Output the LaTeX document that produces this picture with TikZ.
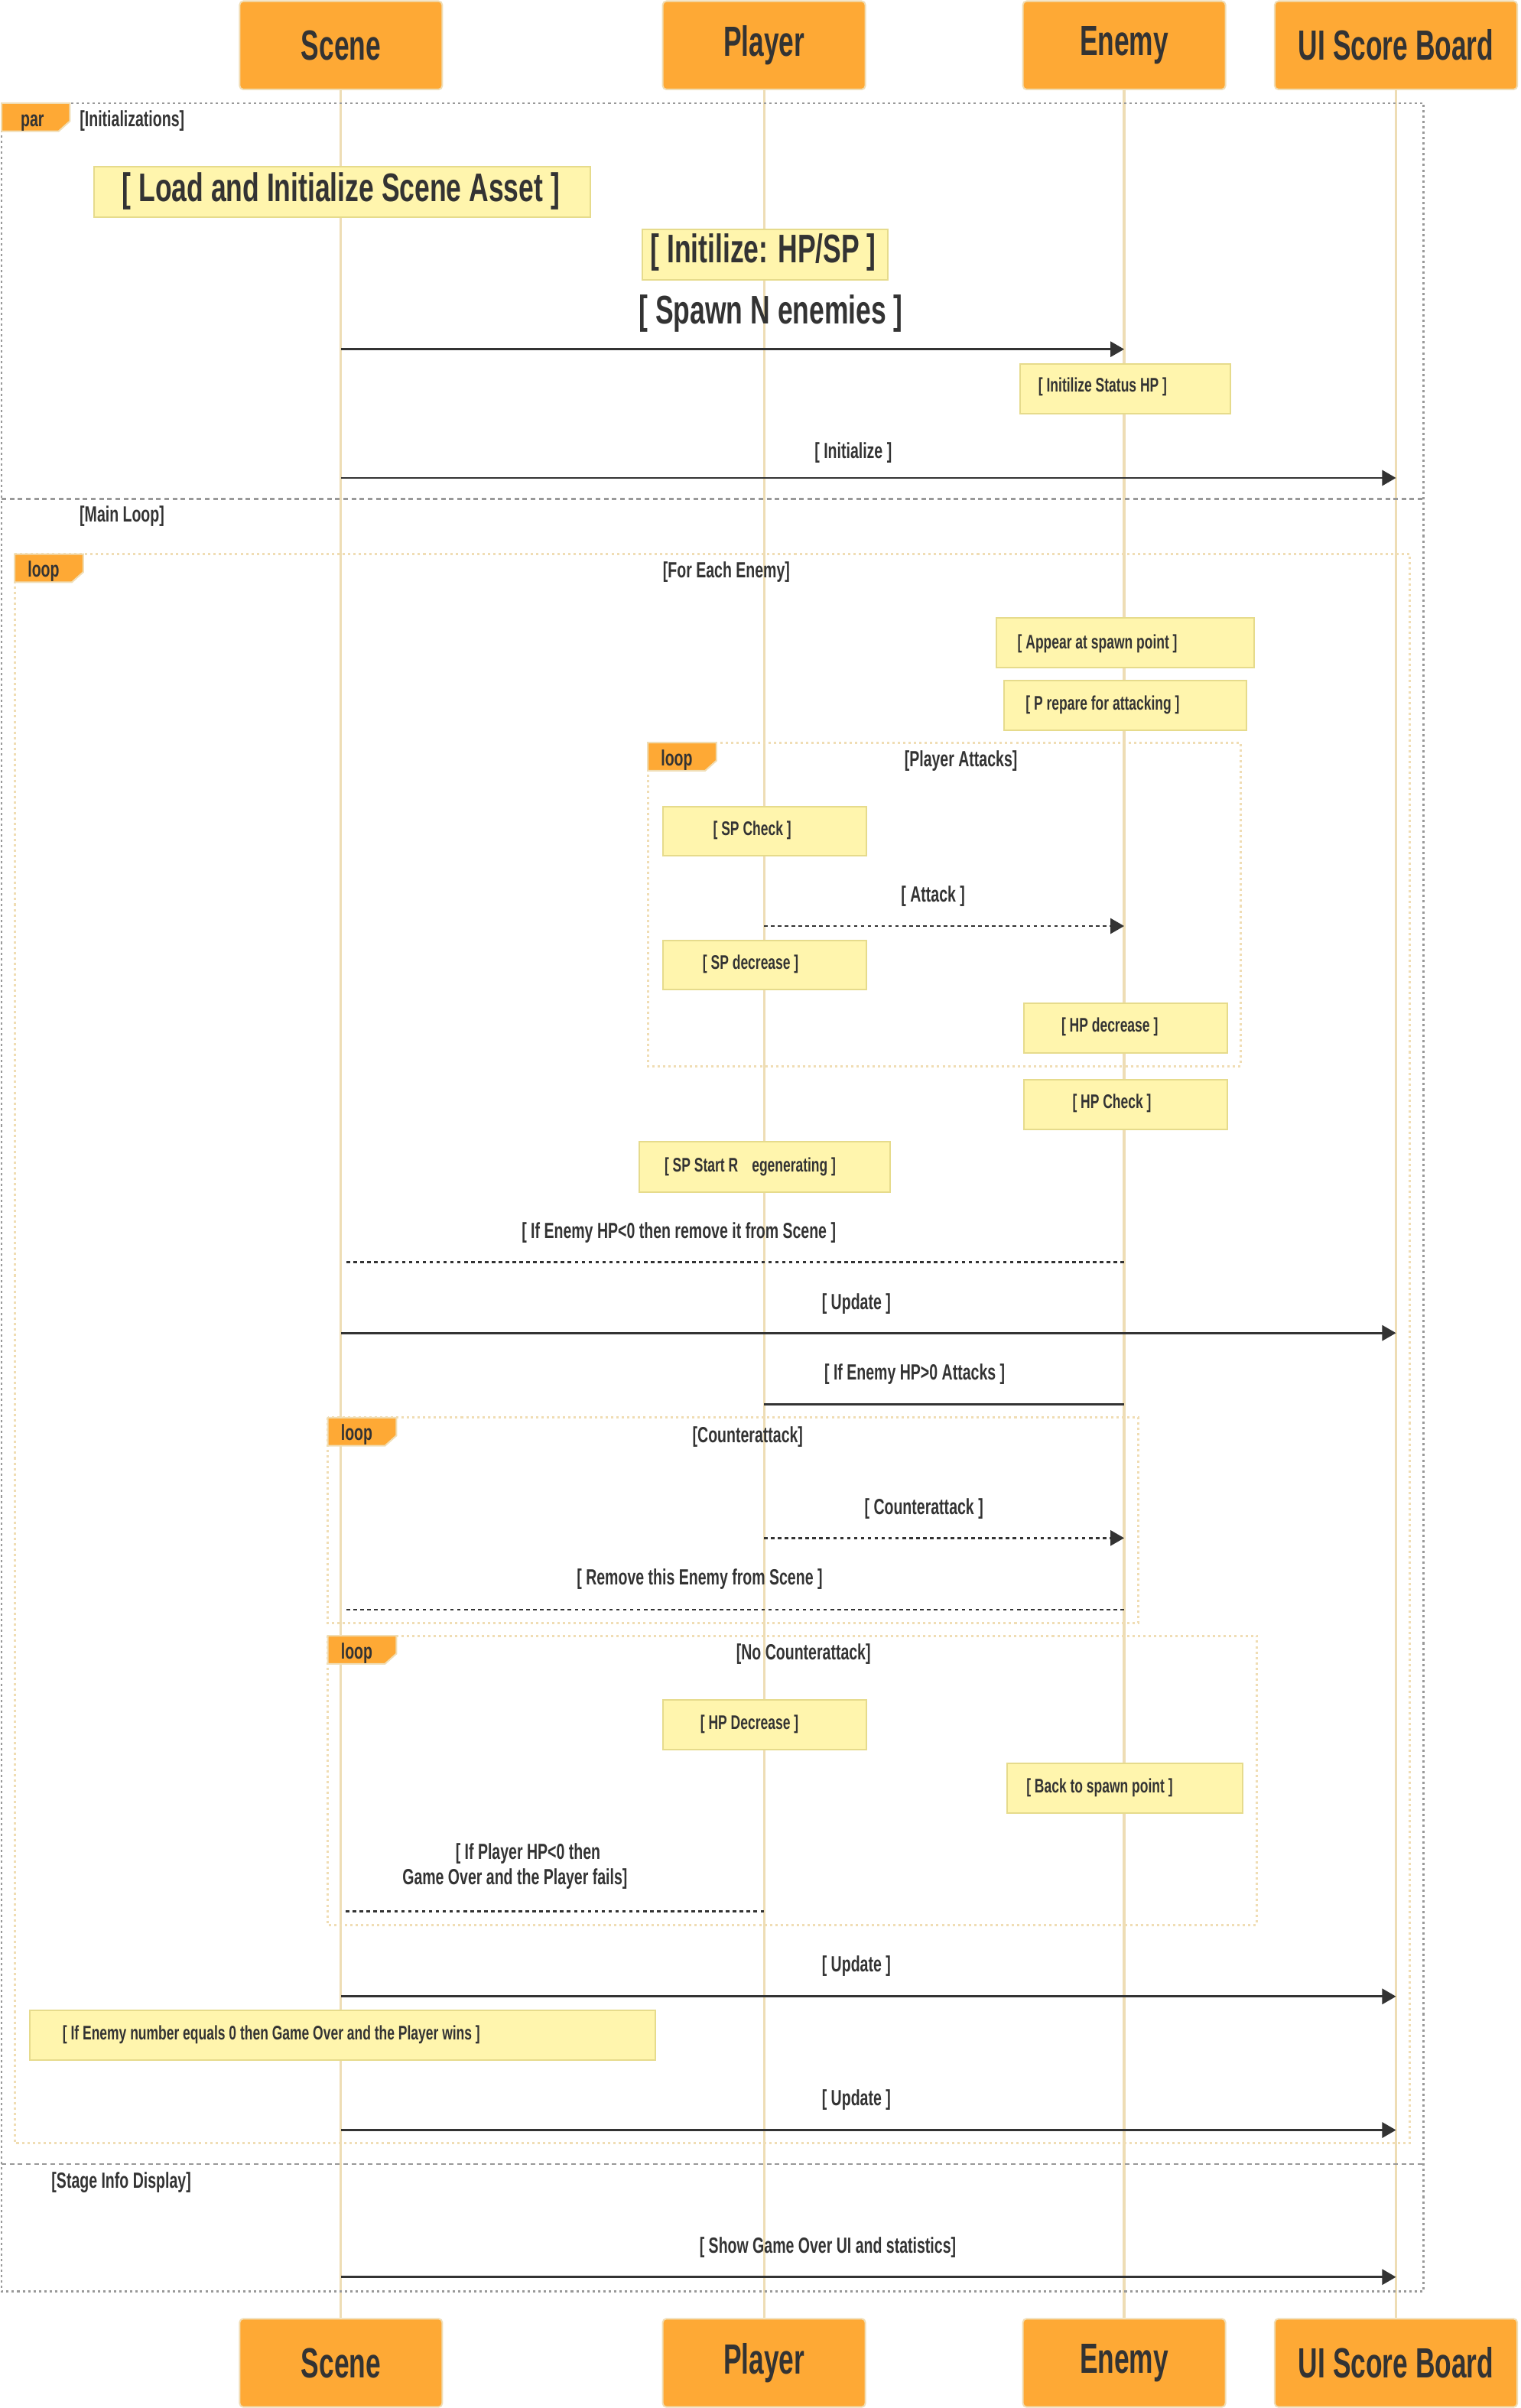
\documentclass[tikz,border=0pt]{standalone}
\usepackage{fontspec}
\usetikzlibrary{arrows.meta}
\newfontfamily\cf[FakeStretch=0.68]{Liberation Sans}
\newfontfamily\cfa[FakeStretch=0.64]{Liberation Sans}
\definecolor{actorfill}{HTML}{FEA935}
\definecolor{actorline}{HTML}{F0DDB4}
\definecolor{notefill}{HTML}{FFF5AD}
\definecolor{noteline}{HTML}{E6DB8C}
\definecolor{lifecol}{HTML}{EEDDB5}
\definecolor{loopcol}{HTML}{F0DDB4}
\definecolor{parcol}{HTML}{999999}
\definecolor{txt}{HTML}{333333}
\definecolor{msgcol}{HTML}{333333}
\begin{document}
\begin{tikzpicture}[x=1pt,y=-1pt,
  actor/.style={draw=actorline, fill=actorfill, line width=1pt, rounded corners=2.5pt, minimum height=57.5pt, inner sep=0pt, text=txt, font=\cfa\bfseries\fontsize{27.5}{32}\selectfont},
  notebox/.style={draw=noteline, fill=notefill, line width=1pt, inner sep=0pt, anchor=north west},
  bigtext/.style={text=txt, inner sep=0pt, font=\cf\bfseries\fontsize{26}{30}\selectfont},
  lbl/.style={text=txt, inner sep=0pt, font=\cf\bfseries\fontsize{14.3}{16.7}\selectfont},
  smalltext/.style={text=txt, inner sep=0pt, font=\cf\bfseries\fontsize{12.8}{15}\selectfont},
  tagtext/.style={text=txt, inner sep=0pt, anchor=base west, font=\cf\bfseries\fontsize{14.3}{16}\selectfont},
  lifeline/.style={draw=lifecol, line width=1.6pt},
  parframe/.style={draw=parcol, line width=1.3pt, dash pattern=on 1.5pt off 2pt},
  pardivider/.style={draw=parcol, line width=1.4pt, dash pattern=on 3pt off 2.3pt},
  loopframe/.style={draw=loopcol, line width=1.5pt, dash pattern=on 1.5pt off 2pt},
  tagshape/.style={fill=actorfill, draw=actorline, line width=1pt},
  msg/.style={draw=msgcol, line width=1.4pt, -{Triangle[length=9pt,width=10pt]}},
  msgdot/.style={draw=msgcol, line width=1.4pt, dash pattern=on 2.3pt off 2.2pt, -{Triangle[length=9pt,width=10pt]}},
  replydot/.style={draw=msgcol, line width=1.4pt, dash pattern=on 2.3pt off 2.2pt},
  plainline/.style={draw=msgcol, line width=1.4pt}
]
\useasboundingbox[fill=white] (0,0) rectangle (990,1568);

% actors
\node[actor, minimum width=132pt] (sceneT) at (222,29.5) {Scene};
\node[actor, minimum width=132pt] (playerT) at (497.5,29.5) {Player};
\node[actor, minimum width=132pt] (enemyT) at (732,29.5) {Enemy};
\node[actor, minimum width=158pt] (uiT) at (909,29.5) {UI Score Board};
\node[actor, minimum width=132pt] (sceneB) at (222,1538.6) {Scene};
\node[actor, minimum width=132pt] (playerB) at (497.5,1538.6) {Player};
\node[actor, minimum width=132pt] (enemyB) at (732,1538.6) {Enemy};
\node[actor, minimum width=158pt] (uiB) at (909,1538.6) {UI Score Board};

% lifelines
\draw[lifeline] (sceneT.south) -- (sceneB.north);
\draw[lifeline] (playerT.south) -- (playerB.north);
\draw[lifeline] (enemyT.south) -- (enemyB.north);
\draw[lifeline] (uiT.south) -- (uiB.north);

% par frame
\draw[parframe] (1,67.2) rectangle (927,1492);
\draw[pardivider] (1,324.7) -- (927,324.7);
\draw[pardivider] (1,1409.1) -- (927,1409.1);
\draw[tagshape] (1,67.2) -- (45.5,67.2) -- (45.5,78.9) -- (38.1,85.5) -- (1,85.5) -- cycle;
\node[tagtext] (partag) at (13.3,82.6) {par};
\node[lbl, anchor=west] (lblinit) at (51.8,78.9) {[Initializations]};
\node[lbl, anchor=west] (lblmain) at (51.7,336.2) {[Main Loop]};
\node[lbl, anchor=west] (lblstage) at (33.4,1421) {[Stage Info Display]};

% loop frames
\draw[loopframe] (9.5,360.8) rectangle (918,1395.6);
\draw[tagshape] (9.5,360.8) -- (54.2,360.8) -- (54.2,372.5) -- (46.8,379.1) -- (9.5,379.1) -- cycle;
\node[tagtext] (looptag1) at (17.9,375.8) {loop};
\node[lbl] (lbleach) at (473,372.5) {[For Each Enemy]};

\draw[loopframe] (421.8,483.6) rectangle (807.8,694.2);
\draw[tagshape] (421.8,483.6) -- (466.5,483.6) -- (466.5,495.3) -- (459.1,501.9) -- (421.8,501.9) -- cycle;
\node[tagtext] (looptag2) at (430.2,498.6) {loop};
\node[lbl] (lblattacks) at (625.7,495.5) {[Player Attacks]};

\draw[loopframe] (213.4,923.1) rectangle (741.3,1057);
\draw[tagshape] (213.4,923.1) -- (258.1,923.1) -- (258.1,934.8) -- (250.7,941.4) -- (213.4,941.4) -- cycle;
\node[tagtext] (looptag3) at (221.8,938.1) {loop};
\node[lbl] (lblcounter) at (486.9,935.6) {[Counterattack]};

\draw[loopframe] (213.4,1065.1) rectangle (818.2,1253.3);
\draw[tagshape] (213.4,1065.1) -- (258.1,1065.1) -- (258.1,1076.8) -- (250.7,1083.4) -- (213.4,1083.4) -- cycle;
\node[tagtext] (looptag4) at (221.8,1080.1) {loop};
\node[lbl] (lblnocounter) at (523.2,1077.2) {[No Counterattack]};

% notes
\node[notebox, minimum width=323.4pt, minimum height=32.6pt] (nload) at (60.6,108.1) {};
\node[bigtext] (nloadt) at (222,124.5) {[ Load and Initialize Scene Asset ]};
\node[notebox, minimum width=159.9pt, minimum height=32.7pt] (nhpsp) at (417.8,148.9) {};
\node[bigtext] (nhpspt) at (497,164.3) {[ Initilize: HP/SP ]};
\node[notebox, minimum width=137pt, minimum height=32.5pt] (nstatus) at (663.6,236.4) {};
\node[smalltext] (nstatust) at (718,252) {[ Initilize Status HP ]};
\node[notebox, minimum width=167.8pt, minimum height=32.4pt] (nappear) at (648.4,401.9) {};
\node[smalltext] (nappeart) at (714.6,419) {[ Appear at spawn point ]};
\node[notebox, minimum width=157.9pt, minimum height=32.4pt] (nprep) at (653.4,442.7) {};
\node[smalltext] (nprept) at (718,459.2) {[ P repare for attacking ]};
\node[notebox, minimum width=132.4pt, minimum height=32.1pt] (nspcheck) at (431.3,524.7) {};
\node[smalltext] (nspcheckt) at (489.8,540.8) {[ SP Check ]};
\node[notebox, minimum width=132.4pt, minimum height=32pt] (nspdec) at (431.3,612) {};
\node[smalltext] (nspdect) at (488.8,628) {[ SP decrease ]};
\node[notebox, minimum width=132.5pt, minimum height=32.6pt] (nhpdec) at (666.3,652.7) {};
\node[smalltext] (nhpdect) at (722.6,668.8) {[ HP decrease ]};
\node[notebox, minimum width=132.5pt, minimum height=32.3pt] (nhpcheck) at (666.3,702.5) {};
\node[smalltext] (nhpcheckt) at (724,718.6) {[ HP Check ]};
\node[notebox, minimum width=163pt, minimum height=32.7pt] (nspstart) at (416,743) {};
\node[smalltext] (nspstartt) at (488.5,759.7) {[ SP Start R\hspace{9pt}egenerating ]};
\node[notebox, minimum width=132.4pt, minimum height=32.2pt] (nhpdecr) at (431.3,1106.6) {};
\node[smalltext] (nhpdecrt) at (488,1123) {[ HP Decrease ]};
\node[notebox, minimum width=153.4pt, minimum height=32.3pt] (nback) at (655.4,1147.6) {};
\node[smalltext] (nbackt) at (716,1164.3) {[ Back to spawn point ]};
\node[notebox, minimum width=407pt, minimum height=32.1pt] (nenemy) at (19,1308.6) {};
\node[smalltext] (nenemyt) at (176.7,1324.7) {[ If Enemy number equals 0 then Game Over and the Player wins ]};

% message end points
\path (222,227.4) coordinate (m1a) (732,227.4) coordinate (m1b)
      (222,311.2) coordinate (m2a) (909,311.2) coordinate (m2b)
      (497.5,603) coordinate (m3a) (732,603) coordinate (m3b)
      (732,822) coordinate (m4a) (224,822) coordinate (m4b)
      (222,868) coordinate (m5a) (909,868) coordinate (m5b)
      (732,914.3) coordinate (m6a) (497.5,914.3) coordinate (m6b)
      (497.5,1001.5) coordinate (m7a) (732,1001.5) coordinate (m7b)
      (732,1048.1) coordinate (m8a) (224,1048.1) coordinate (m8b)
      (497.5,1244.4) coordinate (m9a) (224,1244.4) coordinate (m9b)
      (222,1300) coordinate (m10a) (909,1300) coordinate (m10b)
      (222,1387) coordinate (m11a) (909,1387) coordinate (m11b)
      (222,1482.7) coordinate (m12a) (909,1482.7) coordinate (m12b);

\node[bigtext] (l1) at (502,204.2) {[ Spawn N enemies ]};
\draw[msg] (m1a) -- (m1b);
\node[lbl] (l2) at (555.6,295) {[ Initialize ]};
\draw[msg] (m2a) -- (m2b);
\node[lbl] (l3) at (607.6,583.7) {[ Attack ]};
\draw[msgdot] (m3a) -- (m3b);
\node[lbl] (l4) at (442,802.8) {[ If Enemy HP<0 then remove it from Scene ]};
\draw[replydot] (m4a) -- (m4b);
\node[lbl] (l5) at (557.6,849) {[ Update ]};
\draw[msg] (m5a) -- (m5b);
\node[lbl] (l6) at (595.6,895) {[ If Enemy HP>0 Attacks ]};
\draw[plainline] (m6a) -- (m6b);
\node[lbl] (l7) at (601.6,982.6) {[ Counterattack ]};
\draw[msgdot] (m7a) -- (m7b);
\node[lbl] (l8) at (455.6,1028.3) {[ Remove this Enemy from Scene ]};
\draw[replydot] (m8a) -- (m8b);
\node[lbl, align=center] (l9) at (335.3,1215.2) {\hspace*{17pt}[ If Player HP<0 then\\Game Over and the Player fails]};
\draw[replydot] (m9a) -- (m9b);
\node[lbl] (l10) at (557.6,1280.2) {[ Update ]};
\draw[msg] (m10a) -- (m10b);
\node[lbl] (l11) at (557.6,1367.3) {[ Update ]};
\draw[msg] (m11a) -- (m11b);
\node[lbl] (l12) at (539,1463.7) {[ Show Game Over UI and statistics]};
\draw[msg] (m12a) -- (m12b);
\end{tikzpicture}
\end{document}
